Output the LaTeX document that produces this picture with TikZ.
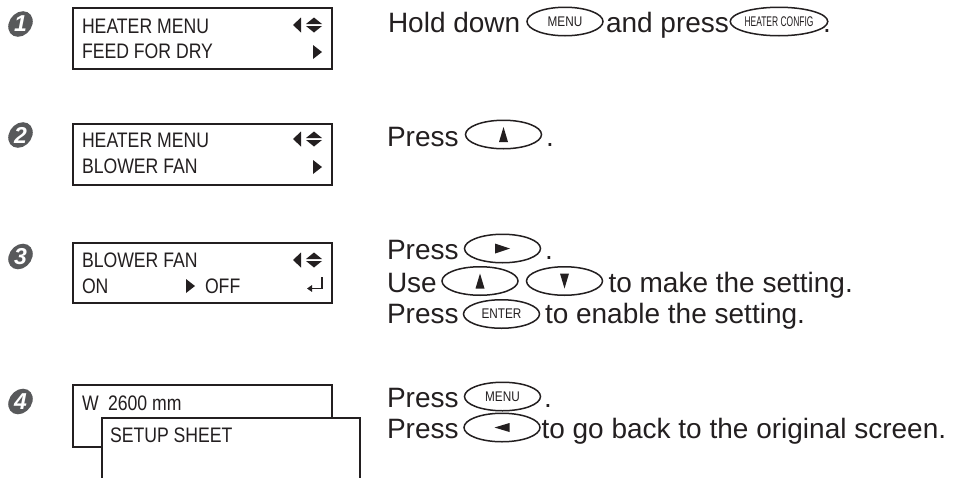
\documentclass[tikz,border=0pt]{standalone}
\usepackage{fontspec}
\usepackage{graphicx}
\setmainfont{Liberation Sans}
\newfontfamily\lcdfont[FakeStretch=0.84]{Liberation Sans}
\usetikzlibrary{shapes.geometric,arrows.meta,calc}
\definecolor{ink}{HTML}{231F20}
\definecolor{stepgray}{HTML}{58595B}
\tikzset{
  navsym/.pic={
    \fill[ink] (-29,-8) -- (-21,-15.5) -- (-21,-0.5) -- cycle;
    \fill[ink] (-16,-9) -- (-8,-15.5) -- (0,-9) -- cycle;
    \fill[ink] (-16,-7) -- (-8,-0.5) -- (0,-7) -- cycle;
  },
  righttri/.pic={
    \fill[ink] (-9,-14) -- (0,-7) -- (-9,0) -- cycle;
  }
}
\begin{document}
\begin{tikzpicture}[x=1pt,y=-1pt,
  txt/.style={anchor=base west,inner sep=0,outer sep=0,text=ink,font=\fontsize{28}{32}\selectfont},
  lcdtxt/.style={anchor=base west,inner sep=0,outer sep=0,text=ink,font=\lcdfont\fontsize{21}{24}\selectfont},
  lcdbox/.style={draw=ink,line width=2pt,fill=white,anchor=north west,inner sep=0,outer sep=0},
  btn/.style={draw=ink,line width=1.5pt,fill=white,ellipse,inner sep=0,minimum width=76pt,minimum height=28.5pt,text=ink,font=\lcdfont\fontsize{14}{14}\selectfont},
  tri/.style={fill=ink},
  stepdisc/.style={fill=stepgray},
  stepnum/.style={text=white,font=\fontsize{23}{23}\selectfont\bfseries\itshape,inner sep=0}
]
\useasboundingbox (0,0) rectangle (970,477);
\clip (0,0) rectangle (970,477);

% ---------- step icons ----------
\foreach \n/\yy in {1/24,2/135,3/256.5,4/401.5}{
  \coordinate (c\n) at (20.5,\yy);
  \fill[stepdisc,shift={(c\n)},xslant=0.2] (0,0) ellipse [x radius=12pt,y radius=12.8pt];
  \node[stepnum] (s\n) at (c\n) {\n};
}

% ---------- LCD 1 ----------
\node[lcdbox,minimum width=259pt,minimum height=61pt] (lcd1) at (73,8) {};
\node[lcdtxt] (l1a) at (82,33) {HEATER MENU};
\node[lcdtxt] (l1b) at (82,58) {FEED FOR DRY};
\pic at (322,33) {navsym};
\pic at (322,59) {righttri};

% ---------- LCD 2 ----------
\node[lcdbox,minimum width=259pt,minimum height=61pt] (lcd2) at (73,124) {};
\node[lcdtxt] (l2a) at (82,147) {HEATER MENU};
\node[lcdtxt] (l2b) at (82,173) {BLOWER FAN};
\pic at (322,147) {navsym};
\pic at (322,174) {righttri};

% ---------- LCD 3 ----------
\node[lcdbox,minimum width=259pt,minimum height=60pt] (lcd3) at (73,243) {};
\node[lcdtxt] (l3a) at (82,267) {BLOWER FAN};
\node[lcdtxt] (l3b) at (82,293) {ON};
\pic at (195,293) {righttri};
\node[lcdtxt] (l3c) at (205,293) {OFF};
\pic at (322,268) {navsym};
\coordinate (ent1) at (322,277);
\coordinate (ent2) at (322,288.5);
\coordinate (ent3) at (307,288.5);
\draw[ink,line width=1.5pt,-{Triangle[length=5pt,width=6.5pt]}] (ent1) -- (ent2) -- (ent3);

% ---------- LCD 4 ----------
\node[lcdbox,minimum width=259pt,minimum height=62pt] (lcd4a) at (73,385) {};
\node[lcdtxt] (l4a) at (82,410) {W};
\node[lcdtxt] (l4b) at (108,410) {2600 mm};
\node[lcdbox,minimum width=258pt,minimum height=90pt] (lcd4b) at (102,418) {};
\node[lcdtxt] (l4c) at (110,442) {SETUP SHEET};

% ---------- Row 1 text ----------
\node[txt] (t1a) at (388,32) {Hold down};
\node[btn] (b1menu) at (565,21.5) {MENU};
\node[txt] (t1b) at (606,32) {and press};
\node[btn] (b1heat) at (779,21.5) {\scalebox{0.72}[1]{HEATER CONFIG}};
\node[txt] (t1c) at (823,32) {.};

% ---------- Row 2 text ----------
\node[txt] (t2a) at (387,146) {Press};
\node[btn] (b2up) at (503.5,134.5) {};
\fill[tri] ($(b2up.center)+(0,-7.5)$) -- ++(4.5,15) -- ++(-9,0) -- cycle;
\node[txt] (t2b) at (546,146) {.};

% ---------- Row 3 text ----------
\node[txt] (t3a) at (387,259) {Press};
\node[btn] (b3right) at (502.5,248.5) {};
\fill[tri] ($(b3right.center)+(-7.5,-5)$) -- ++(15,5) -- ++(-15,5) -- cycle;
\node[txt] (t3b) at (545,259) {.};

\node[txt] (t3c) at (387,292) {Use};
\node[btn] (b3up) at (480,281) {};
\fill[tri] ($(b3up.center)+(0,-7.5)$) -- ++(4.5,15) -- ++(-9,0) -- cycle;
\node[btn] (b3down) at (564.5,281) {};
\fill[tri] ($(b3down.center)+(0,7.5)$) -- ++(4.5,-15) -- ++(-9,0) -- cycle;
\node[txt] (t3d) at (608.5,292) {to make the setting.};

\node[txt] (t3e) at (387,323) {Press};
\node[btn] (b3enter) at (501.5,314) {ENTER};
\node[txt] (t3f) at (545,323) {to enable the setting.};

% ---------- Row 4 text ----------
\node[txt] (t4a) at (387,407) {Press};
\node[btn] (b4menu) at (502.5,396.5) {MENU};
\node[txt] (t4b) at (544,407) {.};

\node[txt] (t4c) at (387,438) {Press};
\node[btn] (b4left) at (502,427.5) {};
\fill[tri] ($(b4left.center)+(7.5,-4.5)$) -- ++(-15,4.5) -- ++(15,4.5) -- cycle;
\node[txt] (t4d) at (541.5,438) {to go back to the original screen.};
\end{tikzpicture}
\end{document}
